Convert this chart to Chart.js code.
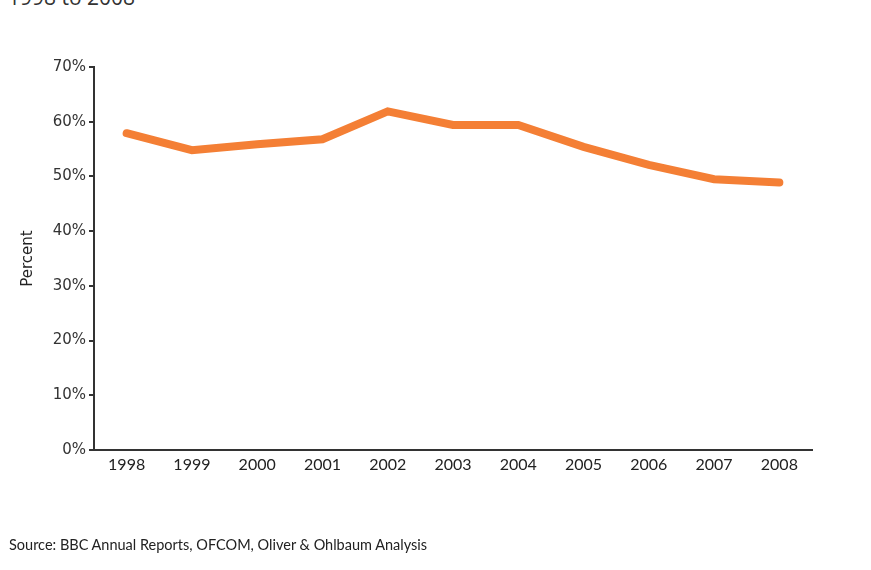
<!DOCTYPE html>
<html>
<head>
<meta charset="utf-8">
<script src="https://cdn.jsdelivr.net/npm/chart.js@4"></script>
<style>
  body { margin: 0; background: #fff; width: 871px; height: 570px; overflow: hidden; position: relative; }
  #wrap { position: absolute; left: 0; top: 0; width: 871px; height: 570px; }
  .title { position: absolute; left: 8px; top: -17px; font: 21px "Open Sans", sans-serif; color: #333; }
  .source { position: absolute; left: 9px; top: 536px; font: 14.5px Lato, "Open Sans", sans-serif; color: #222; }
</style>
</head>
<body>
<div class="title">1998 to 2008</div>
<div id="wrap"><canvas id="shareChart" width="871" height="570"></canvas></div>
<div class="source">Source: BBC Annual Reports, OFCOM, Oliver &amp; Ohlbaum Analysis</div>
<script>
const years = ["1998", "1999", "2000", "2001", "2002", "2003", "2004", "2005", "2006", "2007", "2008"];
const shareValues = [57.9, 54.8, 55.9, 56.8, 61.9, 59.4, 59.4, 55.4, 52.1, 49.5, 48.9];
const yTicks = [0, 10, 20, 30, 40, 50, 60, 70];

const axisColor = "#333";
const verdanaLike = "'DejaVu Sans', Verdana, sans-serif";

new Chart(document.getElementById("shareChart"), {
  type: "line",
  data: {
    labels: years,
    datasets: [
      {
        label: "Share",
        data: shareValues,
        borderColor: "#f47f35",
        backgroundColor: "#f47f35",
        borderWidth: 8,
        borderCapStyle: "round",
        borderJoinStyle: "miter",
        pointRadius: 0,
        fill: false,
        tension: 0,
      },
    ],
  },
  options: {
    responsive: false,
    animation: false,
    layout: { padding: { left: 16, right: 59, top: 67, bottom: 90 } },
    plugins: { legend: { display: false }, tooltip: { enabled: false } },
    scales: {
      x: {
        offset: true,
        grid: { display: false, drawTicks: false, offset: true },
        border: { display: true, color: axisColor, width: 2 },
        ticks: {
          color: "#222",
          padding: 5,
          maxRotation: 0,
          font: { family: "Lato", size: 16 },
        },
        afterFit: (scale) => { scale.height = 30; },
      },
      y: {
        min: 0,
        max: 70,
        afterBuildTicks: (scale) => { scale.ticks = yTicks.map((v) => ({ value: v })); },
        grid: { drawOnChartArea: false, drawTicks: true, tickLength: 5, color: axisColor, lineWidth: 2 },
        border: { display: true, color: axisColor, width: 2 },
        ticks: {
          color: "#333",
          padding: 3,
          font: { family: verdanaLike, size: 15 },
          callback: (v) => v + "%",
        },
        title: {
          display: true,
          text: "Percent",
          color: "#222",
          padding: { top: 3, bottom: 0 },
          font: { family: verdanaLike, size: 15 },
        },
        afterFit: (scale) => { scale.width = 94 - 16; },
      },
    },
  },
});
</script>
</body>
</html>
